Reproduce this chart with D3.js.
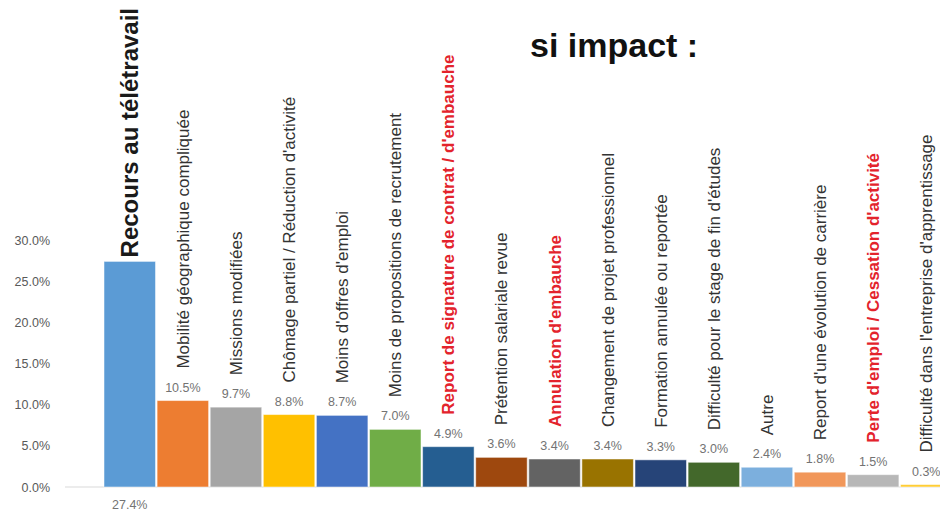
<!DOCTYPE html>
<html>
<head>
<meta charset="utf-8">
<script src="https://cdn.jsdelivr.net/npm/d3@7"></script>
<style>
  html, body { margin: 0; padding: 0; background: #fff; }
  svg { display: block; font-family: "Liberation Sans", Arial, sans-serif; }
</style>
</head>
<body>
<svg id="chart" width="940" height="512"></svg>
<script>
const categories = [
  "Recours au télétravail",
  "Mobilité géographique compliquée",
  "Missions modifiées",
  "Chômage partiel / Réduction d'activité",
  "Moins d'offres d'emploi",
  "Moins de propositions de recrutement",
  "Report de signature de contrat / d'embauche",
  "Prétention salariale revue",
  "Annulation d'embauche",
  "Changement de projet professionnel",
  "Formation annulée ou reportée",
  "Difficulté pour le stage de fin d'études",
  "Autre",
  "Report d'une évolution de carrière",
  "Perte d'emploi / Cessation d'activité",
  "Difficulté dans l'entreprise d'apprentissage"
];
const values = [27.4, 10.5, 9.7, 8.8, 8.7, 7.0, 4.9, 3.6, 3.4, 3.4, 3.3, 3.0, 2.4, 1.8, 1.5, 0.3];
const highlighted = [
  "Report de signature de contrat / d'embauche",
  "Annulation d'embauche",
  "Perte d'emploi / Cessation d'activité"
];
const emphasized = ["Recours au télétravail"];
const colors = ["#5B9BD5", "#ED7D31", "#A5A5A5", "#FFC000", "#4472C4", "#70AD47", "#255E91", "#9E480E",
                "#636363", "#997300", "#264478", "#43682B", "#7CAFDD", "#F1975A", "#B7B7B7", "#FFCD33"];
const yTicks = [0, 5, 10, 15, 20, 25, 30];
const title = "si impact :";

const svg = d3.select("#chart");

const x = d3.scaleBand().domain(categories).range([104, 952]).paddingInner(0.03).paddingOuter(0);
const y = d3.scaleLinear().domain([0, 30]).range([487, 240]);

// y axis labels
const yAxis = d3.axisLeft(y).tickValues(yTicks).tickSize(0).tickPadding(0)
  .tickFormat(d => d.toFixed(1) + "%");
const gy = svg.append("g").attr("transform", "translate(50,0)").call(yAxis);
gy.select(".domain").remove();
gy.selectAll("text").attr("fill", "#595959").attr("font-size", "12.5px")
  .attr("font-family", "'Liberation Sans', Arial, sans-serif");

// baseline
svg.append("line").attr("x1", 65).attr("x2", 940).attr("y1", y(0)).attr("y2", y(0))
  .attr("stroke", "#d9d9d9").attr("stroke-width", 1);

const data = categories.map((c, i) => ({ c, v: values[i], i }));

// bars
svg.append("g").selectAll("rect").data(data).join("rect")
  .attr("x", d => x(d.c))
  .attr("width", x.bandwidth())
  .attr("y", d => y(d.v))
  .attr("height", d => y(0) - y(d.v))
  .attr("fill", d => colors[d.i])
  .attr("stroke", "#ffffff").attr("stroke-opacity", 0.5).attr("stroke-width", 1);

// value labels
const isBig = d => d.v > 20;
svg.append("g").selectAll("text").data(data).join("text")
  .attr("x", d => x(d.c) + x.bandwidth() / 2)
  .attr("y", d => isBig(d) ? y(0) + 22 : y(d.v) - 9)
  .attr("text-anchor", "middle")
  .attr("font-size", "12.5px")
  .attr("fill", "#737373")
  .text(d => d.v.toFixed(1) + "%");

// category labels (rotated)
svg.append("g").selectAll("text").data(data).join("text")
  .attr("transform", d => {
    const cx = x(d.c) + x.bandwidth() / 2;
    const base = isBig(d) ? y(d.v) - 4 : y(d.v) - 32;
    return `translate(${cx},${base}) rotate(-90)`;
  })
  .attr("dy", "0.35em")
  .attr("text-anchor", "start")
  .attr("font-size", d => emphasized.includes(d.c) ? "24px" : "17px")
  .attr("font-weight", d => (emphasized.includes(d.c) || highlighted.includes(d.c)) ? "bold" : "normal")
  .attr("fill", d => highlighted.includes(d.c) ? "#E3232C" : (emphasized.includes(d.c) ? "#1a1a1a" : "#333333"))
  .text(d => d.c);

// title
svg.append("text").attr("x", 530).attr("y", 57)
  .attr("font-size", "34px").attr("font-weight", "bold").attr("fill", "#111")
  .text(title);
</script>
</body>
</html>
